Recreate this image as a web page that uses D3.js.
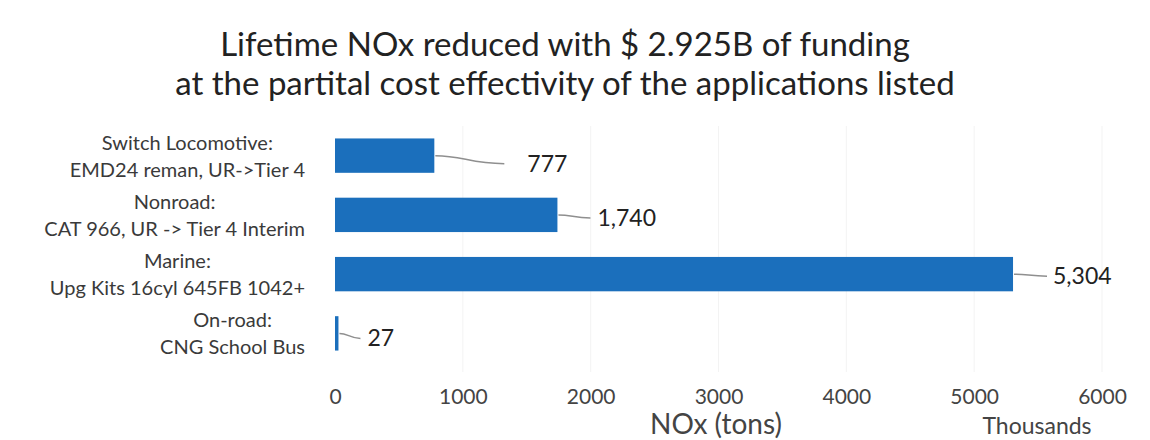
<!DOCTYPE html>
<html>
<head>
<meta charset="utf-8">
<title>Lifetime NOx reduced</title>
<script src="https://d3js.org/d3.v7.min.js"></script>
<style>
    body { margin: 0; background: #fff; }
    svg text { font-family: Lato, "Open Sans", sans-serif; fill: #3a3a3a; }
    .grid line { stroke: #f3f3f3; stroke-width: 1; }
    .bar { fill: #1b6fbc; }
    .leader { fill: none; stroke: #8f8f8f; stroke-width: 1.5; }
</style>
</head>
<body>
<script>
// data
var categories = [
    ["Switch Locomotive:", "EMD24 reman, UR->Tier 4"],
    ["Nonroad:", "CAT 966, UR -> Tier 4 Interim"],
    ["Marine:", "Upg Kits 16cyl 645FB 1042+"],
    ["On-road:", "CNG School Bus"]
];
var values = [777, 1740, 5304, 27];
var xTicks = [0, 1000, 2000, 3000, 4000, 5000, 6000];
var titleLines = [
    "Lifetime NOx reduced with $ 2.925B of funding",
    "at the partital cost effectivity of the applications listed"
];

// layout
var width = 1150, height = 440;
var plotLeft = 335, plotRight = 1102, plotTop = 126, plotBottom = 363;
// data labels were dragged by hand: offset from bar end / bar centre
var labelDx = [93, 40, 40, 29];
var labelDy = [8, 3, 2, 5];
var leaderDx = [70, 33, 34, 22];

var svg = d3.select("body").append("svg")
    .attr("width", width)
    .attr("height", height);

var x = d3.scaleLinear().domain([0, 6000]).range([plotLeft, plotRight]);
var y = d3.scaleBand().domain(d3.range(values.length))
    .range([plotTop, plotBottom])
    .paddingInner(0.42).paddingOuter(0.21);

// faint gridlines
svg.append("g").attr("class", "grid")
    .selectAll("line").data(xTicks.slice(1)).enter().append("line")
    .attr("x1", function(d) { return x(d); })
    .attr("x2", function(d) { return x(d); })
    .attr("y1", plotTop).attr("y2", 372);

// title
svg.append("g").selectAll("text").data(titleLines).enter().append("text")
    .attr("x", 565)
    .attr("y", function(d, i) { return 56 + i * 39; })
    .attr("text-anchor", "middle")
    .style("font-size", "33px")
    .style("fill", "#222")
    .text(function(d) { return d; });

// bars
svg.selectAll(".bar").data(values).enter().append("rect")
    .attr("class", "bar")
    .attr("x", x(0))
    .attr("y", function(d, i) { return y(i); })
    .attr("width", function(d) { return Math.max(x(d) - x(0), 3); })
    .attr("height", y.bandwidth());

// leader lines + value labels
var fmt = d3.format(",");
values.forEach(function(v, i) {
    var cy = y(i) + y.bandwidth() / 2;
    var x0 = x(v) + 1, x1 = x(v) + leaderDx[i];
    svg.append("path")
        .attr("class", "leader")
        .attr("d", "M" + x0 + "," + cy +
            " C" + (x0 + (x1 - x0) * 0.4) + "," + cy + " " +
            (x0 + (x1 - x0) * 0.5) + "," + (cy + labelDy[i]) + " " +
            x1 + "," + (cy + labelDy[i]));
    svg.append("text")
        .attr("x", x(v) + labelDx[i])
        .attr("y", cy + labelDy[i] + 8)
        .style("font-size", "23px")
        .style("fill", "#222")
        .text(fmt(v));
});

// category labels: two centred lines, block right aligned
var labelRight = 305;
categories.forEach(function(lines, i) {
    var cy = y(i) + y.bandwidth() / 2;
    var g = svg.append("g");
    var t = g.selectAll("text").data(lines).enter().append("text")
        .attr("y", function(d, j) { return cy - 6 + j * 27; })
        .attr("text-anchor", "middle")
        .style("font-size", "20px")
        .text(function(d) { return d; });
    var w = 0;
    t.each(function() { w = Math.max(w, this.getComputedTextLength()); });
    t.attr("x", labelRight - w / 2);
});

// x axis (no line, just labels)
var xAxis = d3.axisBottom(x).tickValues(xTicks).tickFormat(d3.format("d"))
    .tickSize(0).tickPadding(0);
var ax = svg.append("g")
    .attr("transform", "translate(0,388)")
    .call(xAxis);
ax.select(".domain").remove();
ax.selectAll("text")
    .attr("dy", "0.76em")
    .style("font-family", "Lato, sans-serif")
    .style("font-size", "21px")
    .style("fill", "#444");

svg.append("text")
    .attr("x", 716).attr("y", 434)
    .attr("text-anchor", "middle")
    .style("font-size", "28px")
    .style("fill", "#444")
    .text("NOx (tons)");

svg.append("text")
    .attr("x", 1037).attr("y", 434)
    .attr("text-anchor", "middle")
    .style("font-size", "23px")
    .style("fill", "#444")
    .text("Thousands");
</script>
</body>
</html>
